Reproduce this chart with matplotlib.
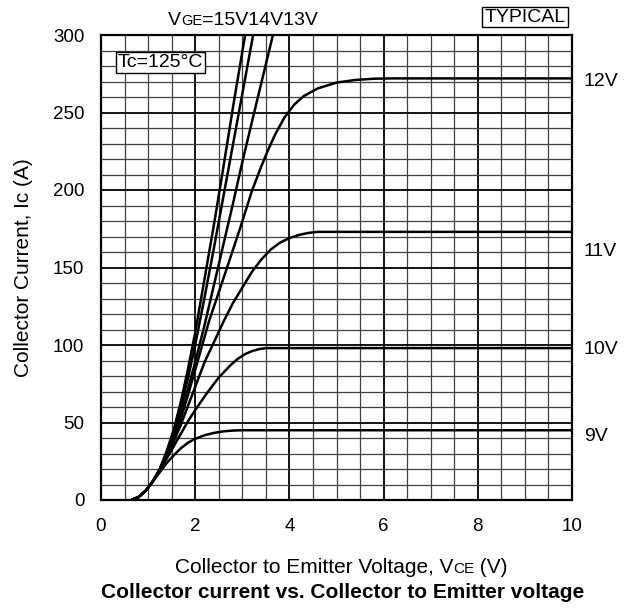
import numpy as np
import matplotlib
matplotlib.use("Agg")
import matplotlib.pyplot as plt

plt.rcParams['font.family'] = ['Liberation Sans', 'DejaVu Sans']

# 게이트 전압별 출력 특성 (Vce [V], Ic [A]) - 그림에서 읽은 값
gate_labels = ['9V', '10V', '11V', '12V', '13V', '14V', '15V']

vce_9 = [0.65, 0.8, 0.95, 1.1, 1.25, 1.4, 1.55, 1.7, 1.85, 2.0, 2.2, 2.4, 2.6, 2.8, 3.0, 10.0]
ic_9 = [0, 2, 6, 12, 18, 24, 29, 33.5, 37, 39.5, 41.8, 43.3, 44.3, 44.8, 45, 45]

vce_10 = [0.65, 0.8, 0.95, 1.1, 1.25, 1.4, 1.55, 1.7, 1.85, 2.0, 2.25, 2.5, 2.75, 2.9, 3.05, 3.2,
          3.35, 3.5, 10.0]
ic_10 = [0, 2, 6, 12, 19, 27, 35, 43, 51, 58, 69, 79, 87, 91, 94, 96, 97.3, 98, 98]

vce_11 = [0.65, 0.8, 0.95, 1.1, 1.25, 1.4, 1.55, 1.7, 1.85, 2.0, 2.2, 2.4, 2.6, 2.8, 3.0, 3.2,
          3.4, 3.6, 3.8, 4.0, 4.2, 4.4, 4.6, 10.0]
ic_11 = [0, 2, 6, 12, 19.5, 28, 38, 49, 61, 73, 89, 102, 115, 127, 137, 147,
         155, 161.5, 166, 169, 171, 172.3, 173, 173]

vce_12 = [0.65, 0.8, 0.95, 1.1, 1.25, 1.4, 1.55, 1.7, 1.85, 2.0, 2.15, 2.3, 2.6, 2.95, 3.2, 3.4,
          3.55, 3.7, 3.9, 4.1, 4.3, 4.6, 5.0, 5.4, 5.8, 6.2, 10.0]
ic_12 = [0, 2, 6, 12, 20, 29, 40, 53, 68, 84, 100, 116, 143, 175, 199, 215,
         226, 236, 247, 255, 260.5, 265.5, 269.3, 271, 271.8, 272, 272]

vce_13 = [0.65, 0.8, 0.95, 1.1, 1.25, 1.4, 1.55, 1.7, 1.85, 2.0, 2.2, 2.4, 2.6, 2.8, 3.0, 3.3, 3.65, 3.75]
ic_13 = [0, 2, 6, 12, 20, 30, 42, 56, 72, 89, 113, 139, 165, 191, 218, 256, 300, 312]

vce_14 = [0.65, 0.8, 0.95, 1.1, 1.25, 1.4, 1.55, 1.7, 1.85, 2.0, 2.2, 2.4, 2.6, 2.8, 3.0, 3.23, 3.3]
ic_14 = [0, 2, 6, 12, 20, 31, 44, 60, 79, 100, 131, 163, 196, 229, 262, 300, 312]

vce_15 = [0.65, 0.8, 0.95, 1.1, 1.25, 1.4, 1.55, 1.7, 1.85, 2.0, 2.2, 2.4, 2.6, 2.8, 3.06, 3.15]
ic_15 = [0, 2, 6, 12, 20, 32, 46, 64, 85, 108, 143, 178, 215, 253, 300, 315]

# 오른쪽 라벨 위치 (A)
side_labels = ['12V', '11V', '10V', '9V']
side_label_y = [270, 160, 97, 41]

x_ticks = [0, 2, 4, 6, 8, 10]
y_ticks = [0, 50, 100, 150, 200, 250, 300]

fig = plt.figure(figsize=(6.32, 6.08), dpi=100)
ax = fig.add_axes([101 / 632, 1 - 500 / 608, 471 / 632, 465 / 608])

# 격자 (0.5V, 10A 간격 / 굵은 선 2V, 50A)
for v in np.arange(0.5, 10, 0.5):
    major = abs(v / 2 - round(v / 2)) < 1e-6
    ax.axvline(v, color='black' if major else '#404040', lw=1.3 if major else 0.9, zorder=1)
for a in np.arange(10, 300, 10):
    major = a % 50 == 0
    ax.axhline(a, color='black' if major else '#404040', lw=1.3 if major else 0.9, zorder=1)

curves = [(vce_9, ic_9), (vce_10, ic_10), (vce_11, ic_11), (vce_12, ic_12),
          (vce_13, ic_13), (vce_14, ic_14), (vce_15, ic_15)]
for (vx, iy), lab in zip(curves, gate_labels):
    ax.plot(vx, iy, color='black', lw=1.8, zorder=3, solid_capstyle='round',
            solid_joinstyle='round')

ax.set_xlim(0, 10)
ax.set_ylim(0, 300)
ax.set_xticks(x_ticks)
ax.set_yticks(y_ticks)
ax.tick_params(length=0, labelsize=13.5)
ax.tick_params(axis='x', pad=13)
ax.tick_params(axis='y', pad=12)
for s in ax.spines.values():
    s.set_linewidth(1.6)
    s.set_zorder(4)

for lab, yy in zip(side_labels, side_label_y):
    ax.text(10.25, yy, lab, fontsize=14, va='center', ha='left', clip_on=False)

ax.text(0.36, 282.5, 'Tc=125°C', fontsize=14, va='center', ha='left', zorder=5,
        bbox=dict(boxstyle='square,pad=0.1', fc='white', ec='black', lw=1.0))

fig.text(525 / 632, 1 - 17 / 608, 'TYPICAL', fontsize=14, ha='center', va='center',
         bbox=dict(boxstyle='square,pad=0.1', fc='white', ec='black', lw=1.0))

fig.text(24 / 632, 1 - 268 / 608, 'Collector Current, Ic (A)', fontsize=15,
         rotation=90, ha='center', va='center')

fig.text(343 / 632, 1 - 598 / 608, 'Collector current vs. Collector to Emitter voltage',
         fontsize=15, fontweight='bold', ha='center', va='baseline')


# 크기가 다른 글자를 이어 붙이기
def mixed_text(pieces, x_px, y_px):
    renderer = fig.canvas.get_renderer()
    start = x_px
    for s, size in pieces:
        t = fig.text(start / 632, 1 - y_px / 608, s, fontsize=size, va='baseline', ha='left')
        start += t.get_window_extent(renderer).width


mixed_text([('Collector to Emitter Voltage, V', 15), ('CE', 11), (' (V)', 15)], 175, 573)
mixed_text([('V', 14), ('GE', 10.5), ('=15V14V13V', 14)], 168, 25)

fig.savefig('out.png', dpi=100)
